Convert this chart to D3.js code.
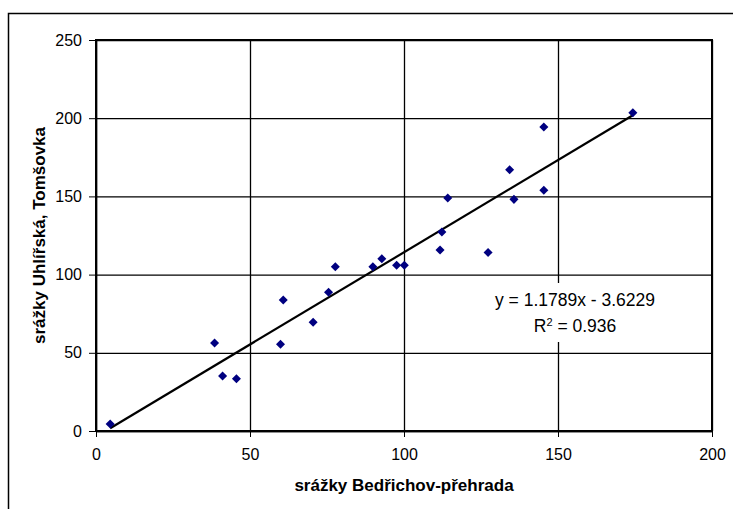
<!DOCTYPE html>
<html>
<head>
<meta charset="utf-8">
<script src="https://cdn.jsdelivr.net/npm/d3@7"></script>
<style>
  body { margin: 0; background: #fff; }
  text { font-family: "Liberation Sans", Arial, sans-serif; fill: #000; }
</style>
</head>
<body>
<svg id="chart" width="733" height="509"></svg>
<script>
// srážky Bedřichov-přehrada (x) vs srážky Uhlířská, Tomšovka (y)
var bedrichov = [4.6, 38.5, 41.1, 45.6, 59.9, 60.8, 70.5, 75.5, 77.7, 89.9, 92.8,
                 97.6, 100.1, 111.7, 112.3, 114.2, 127.3, 134.3, 135.7, 145.4, 145.4, 174.3];
var uhlirska  = [4.5, 56.3, 35.2, 33.4, 55.4, 83.8, 69.5, 88.7, 105, 105, 110.2,
                 106, 106, 115.7, 127.2, 149, 114.2, 167.1, 148.1, 194.4, 153.9, 203.5];
var xTicks = [0, 50, 100, 150, 200];
var yTicks = [0, 50, 100, 150, 200, 250];
var slope = 1.1789, intercept = -3.6229, r2 = "0.936";

var margin = {top: 40, right: 21, bottom: 78, left: 96},
    width = 733 - margin.left - margin.right,
    height = 509 - margin.top - margin.bottom;

var svg = d3.select("#chart");

// outer chart frame (runs off the picture at right and bottom)
svg.append("rect")
    .attr("x", 8.5).attr("y", 13.5)
    .attr("width", 760).attr("height", 520)
    .attr("fill", "#fff")
    .attr("stroke", "#000")
    .attr("stroke-width", 1.5);

var g = svg.append("g")
    .attr("transform", "translate(" + margin.left + "," + margin.top + ")");

var x = d3.scaleLinear().domain([0, 200]).range([0, width]);
var y = d3.scaleLinear().domain([0, 250]).range([height, 0]);

// grid
g.append("g")
    .attr("class", "grid")
    .attr("transform", "translate(0," + height + ")")
    .call(d3.axisBottom(x).tickValues(xTicks).tickSize(-height).tickFormat(""))
    .call(function(s) { s.select(".domain").remove(); });
g.append("g")
    .attr("class", "grid")
    .call(d3.axisLeft(y).tickValues(yTicks).tickSize(-width).tickFormat(""))
    .call(function(s) { s.select(".domain").remove(); });
g.selectAll(".grid line").attr("stroke", "#000").attr("stroke-width", 1.3);

// plot border
g.append("rect")
    .attr("width", width).attr("height", height)
    .attr("fill", "none").attr("stroke", "#000").attr("stroke-width", 2);

// axes
var xAxis = g.append("g")
    .attr("transform", "translate(0," + height + ")")
    .call(d3.axisBottom(x).tickValues(xTicks).tickSize(6).tickSizeOuter(0).tickPadding(12));
var yAxis = g.append("g")
    .call(d3.axisLeft(y).tickValues(yTicks).tickSize(7).tickSizeOuter(0).tickPadding(7));
g.selectAll(".domain").attr("stroke", "#000").attr("stroke-width", 1.5);
g.selectAll(".tick line").attr("stroke", "#000");
xAxis.selectAll("text").attr("font-size", 16).attr("dy", "0.71em");
yAxis.selectAll("text").attr("font-size", 16);
g.selectAll(".tick text").style("font-family", "'Liberation Sans', Arial, sans-serif").attr("fill", "#000");

// trend line
var x0 = d3.min(bedrichov), x1 = d3.max(bedrichov);
g.append("line")
    .attr("x1", x(x0)).attr("y1", y(slope * x0 + intercept))
    .attr("x2", x(x1)).attr("y2", y(slope * x1 + intercept))
    .attr("stroke", "#000").attr("stroke-width", 2.2);

// points
g.selectAll(".dot")
    .data(bedrichov)
  .enter().append("path")
    .attr("class", "dot")
    .attr("d", d3.symbol().type(d3.symbolDiamond2).size(52))
    .attr("transform", function(d, i) { return "translate(" + x(d) + "," + y(uhlirska[i]) + ")"; })
    .attr("fill", "#000080");

// equation label
var eq = g.append("g").attr("transform", "translate(" + (575 - margin.left) + "," + (300 - margin.top) + ")");
eq.append("rect")
    .attr("x", -82).attr("y", -17).attr("width", 164).attr("height", 59)
    .attr("fill", "#fff");
eq.append("text")
    .attr("text-anchor", "middle").attr("dy", "0.35em")
    .attr("font-size", 17.5)
    .text("y = " + slope + "x - " + Math.abs(intercept));
var r = eq.append("text")
    .attr("text-anchor", "middle").attr("y", 26).attr("dy", "0.35em")
    .attr("font-size", 17.5);
r.append("tspan").text("R");
r.append("tspan").attr("baseline-shift", "super").attr("font-size", 11).text("2");
r.append("tspan").text(" = " + r2);

// axis titles
g.append("text")
    .attr("x", width / 2).attr("y", height + 60)
    .attr("text-anchor", "middle")
    .attr("font-size", 17).attr("font-weight", "bold")
    .text("srážky Bedřichov-přehrada");
g.append("text")
    .attr("transform", "rotate(-90)")
    .attr("x", -height / 2).attr("y", -51)
    .attr("text-anchor", "middle")
    .attr("font-size", 17).attr("font-weight", "bold")
    .text("srážky Uhlířská, Tomšovka");
</script>
</body>
</html>
